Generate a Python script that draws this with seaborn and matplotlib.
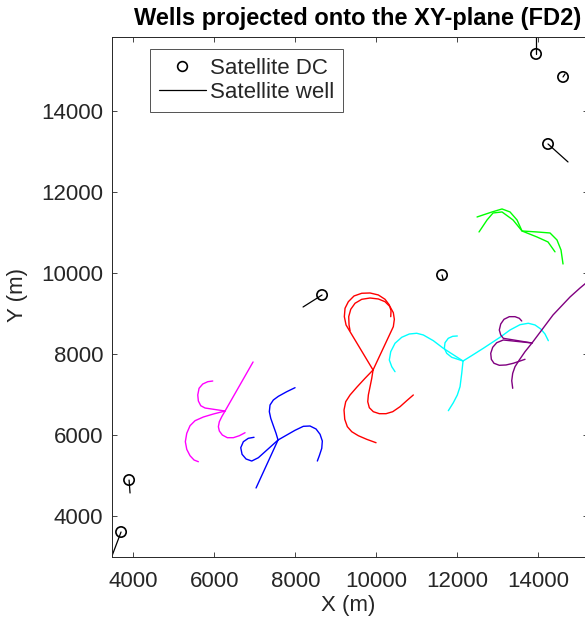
import numpy as np
import pandas as pd
import matplotlib
matplotlib.use('Agg')
import matplotlib.pyplot as plt
from matplotlib.lines import Line2D
import seaborn as sns

# Satellite drill centres (DC) and their short satellite wells
dc_x = [3696, 3894, 8661, 11625, 14243, 13947, 14614]
dc_y = [3605, 4889, 9458, 9952, 13188, 15411, 14843]
sat_end_x = [3465, 3918, 8192, 11650, 14737, 13947, 14663]
sat_end_y = [2995, 4568, 9162, 9854, 12744, 16004, 14917]

# Main clusters: each well is a list of points
magenta_x = [[6265, 6957],
             [6265, 5771, 5665, 5606, 5591, 5623, 5714, 5838, 5961],
             [6265, 5976, 5729, 5524, 5400, 5319, 5284, 5319, 5400, 5499, 5606],
             [6265, 6184, 6124, 6100, 6124, 6198, 6322, 6470, 6618, 6759]]
magenta_y = [[6593, 7804],
             [6593, 6667, 6724, 6840, 6989, 7154, 7260, 7317, 7334],
             [6593, 6519, 6445, 6354, 6230, 6042, 5835, 5647, 5489, 5383, 5341],
             [6593, 6453, 6329, 6206, 6099, 6000, 5934, 5934, 5983, 6057]]

blue_x = [[7574, 7031],
          [7574, 7525, 7458, 7394, 7359, 7376, 7458, 7582, 7789, 7994],
          [7574, 7789, 7994, 8199, 8364, 8513, 8612, 8668, 8654, 8594, 8545],
          [7574, 7418, 7253, 7088, 6924, 6784, 6685, 6653, 6717, 6840, 6981]]
blue_y = [[5877, 4692],
          [5877, 6042, 6230, 6413, 6576, 6741, 6865, 6956, 7070, 7169],
          [5877, 6000, 6117, 6215, 6223, 6149, 6018, 5852, 5672, 5489, 5358],
          [5877, 5736, 5588, 5440, 5358, 5408, 5524, 5687, 5835, 5919, 5944]]

red_x = [[9921, 9353, 9254, 9212, 9229, 9311, 9451, 9642, 9847, 10052, 10217, 10323, 10365, 10358],
         [9921, 10422, 10447, 10422, 10341, 10217, 10052, 9847, 9642, 9476, 9370, 9320, 9328, 9353],
         [9921, 9723, 9518, 9353, 9246, 9204, 9222, 9286, 9395, 9558, 9765, 9995],
         [9921, 9889, 9847, 9805, 9790, 9829, 9928, 10076, 10242, 10407, 10588, 10753, 10916]]
red_y = [[7606, 8552, 8718, 8923, 9130, 9293, 9434, 9501, 9508, 9459, 9352, 9212, 9071, 8923],
         [7606, 8676, 8858, 9021, 9170, 9293, 9360, 9384, 9352, 9254, 9105, 8923, 8718, 8577],
         [7606, 7401, 7179, 6989, 6823, 6618, 6388, 6206, 6082, 5983, 5894, 5810],
         [7606, 7401, 7194, 6989, 6823, 6675, 6576, 6527, 6527, 6576, 6700, 6848, 6989]]

cyan_x = [[12144, 11657, 11410, 11163, 11000, 10817, 10630, 10464, 10358, 10323, 10383, 10464],
          [12144, 11864, 11741, 11682, 11699, 11780, 11889, 12003],
          [12144, 12112, 12070, 12003, 11904, 11781],
          [12144, 12317, 12645, 13058, 13305, 13552, 13757, 13922, 14063, 14169, 14251]]
cyan_y = [[7828, 8142, 8330, 8471, 8513, 8495, 8414, 8266, 8058, 7853, 7688, 7564],
          [7828, 7920, 8018, 8142, 8280, 8389, 8438, 8446],
          [7828, 7525, 7194, 6989, 6798, 6601],
          [7828, 7935, 8142, 8414, 8594, 8725, 8760, 8718, 8619, 8495, 8330]]

purple_x = [[13848, 14367, 14787, 15034, 15330],
            [13848, 13139, 13075, 13040, 13075, 13156, 13287, 13428, 13534, 13594],
            [13848, 13139, 12976, 12877, 12828, 12843, 12909, 13040, 13206, 13386, 13552, 13675],
            [13848, 13675, 13534, 13428, 13371, 13347, 13371]]
purple_y = [[8273, 8965, 9409, 9631, 9878],
            [8273, 8389, 8471, 8594, 8742, 8858, 8923, 8923, 8883, 8816],
            [8273, 8347, 8280, 8167, 8018, 7870, 7772, 7722, 7730, 7772, 7828, 7870],
            [8273, 8058, 7853, 7688, 7525, 7342, 7154]]

green_x = [[12490, 12860, 13107, 13305, 13478, 13601, 13971, 14293, 14465, 14564, 14614],
           [12539, 12737, 12885, 13107, 13379, 13601, 13971, 14243, 14416]]
green_y = [[11385, 11509, 11583, 11509, 11311, 11039, 11015, 10990, 10817, 10570, 10224],
           [11015, 11311, 11484, 11509, 11311, 11039, 10891, 10768, 10524]]

clusters = {
    'magenta': (magenta_x, magenta_y, '#ff00ff'),
    'blue': (blue_x, blue_y, '#0000ff'),
    'red': (red_x, red_y, '#ff0000'),
    'cyan': (cyan_x, cyan_y, '#00ffff'),
    'purple': (purple_x, purple_y, '#800080'),
    'green': (green_x, green_y, '#00ff00'),
}

# long table for seaborn
rows = []
for name, (xs, ys, _) in clusters.items():
    for i, (wx, wy) in enumerate(zip(xs, ys)):
        for px, py in zip(wx, wy):
            rows.append({'x': px, 'y': py, 'well': f'{name}_{i}', 'cluster': name})
wells = pd.DataFrame(rows)

sat_rows = []
for i in range(len(dc_x)):
    sat_rows.append({'x': dc_x[i], 'y': dc_y[i], 'well': f'sat_{i}'})
    sat_rows.append({'x': sat_end_x[i], 'y': sat_end_y[i], 'well': f'sat_{i}'})
sat = pd.DataFrame(sat_rows)
dcs = pd.DataFrame({'x': dc_x, 'y': dc_y})

sns.set_style('ticks')
plt.rcParams['font.family'] = ['Liberation Sans', 'DejaVu Sans']

fig = plt.figure(figsize=(5.85, 6.22), dpi=100)
ax = fig.add_axes([111.7 / 585, 65.3 / 622, 476.3 / 585, 519.7 / 622])

palette = {name: c for name, (_, _, c) in clusters.items()}
sns.lineplot(data=wells, x='x', y='y', units='well', hue='cluster', palette=palette,
             estimator=None, sort=False, legend=False, linewidth=1.0, ax=ax)
sns.lineplot(data=sat, x='x', y='y', units='well', color='black',
             estimator=None, sort=False, legend=False, linewidth=0.9, ax=ax)
sns.scatterplot(data=dcs, x='x', y='y', marker='o', s=55, facecolor='none',
                edgecolor='black', linewidth=1.2, legend=False, ax=ax, zorder=5)

ax.set_xlim(3465, 15231)
ax.set_ylim(2995, 15830)
ax.set_xticks(np.arange(4000, 15000, 2000))
ax.set_yticks(np.arange(4000, 15000, 2000))

ax.tick_params(direction='in', length=3.6, width=0.6, top=True, right=True,
               labelsize=16, colors='#262626')
ax.tick_params(axis='x', pad=10)
ax.tick_params(axis='y', pad=6)
for sp in ax.spines.values():
    sp.set_visible(True)
    sp.set_color('#262626')
    sp.set_linewidth(0.7)

ax.set_xlabel('X (m)', fontsize=16, color='#262626')
ax.set_ylabel('Y (m)', fontsize=16, color='#262626')
ax.xaxis.set_label_coords((348 - 111.7) / 476.3, -(606 - 556.7) / 519.7)
ax.xaxis.label.set_va('center')
ax.yaxis.set_label_coords(-(111.7 - 18) / 476.3, (556.7 - 295) / 519.7)
ax.yaxis.label.set_va('center')

fig.text(358 / 585, 1 - 18 / 622, 'Wells projected onto the XY-plane (FD2)',
         ha='center', va='center', fontsize=17, fontweight='bold', color='black')

handles = [
    Line2D([], [], marker='o', linestyle='none', markerfacecolor='none',
           markeredgecolor='black', markersize=7, markeredgewidth=1.2),
    Line2D([], [], color='black', linewidth=0.9),
]
leg = ax.legend(handles, ['Satellite DC', 'Satellite well'], loc='upper left',
                bbox_to_anchor=((150 - 111.7) / 476.3, (556.7 - 49) / 519.7),
                borderaxespad=0, fontsize=16, frameon=True, fancybox=False,
                handlelength=2.1, handletextpad=0.2, borderpad=0.4,
                labelspacing=0.15)
leg.get_frame().set_edgecolor('#262626')
leg.get_frame().set_linewidth(0.7)

fig.savefig('out.png', dpi=100)
